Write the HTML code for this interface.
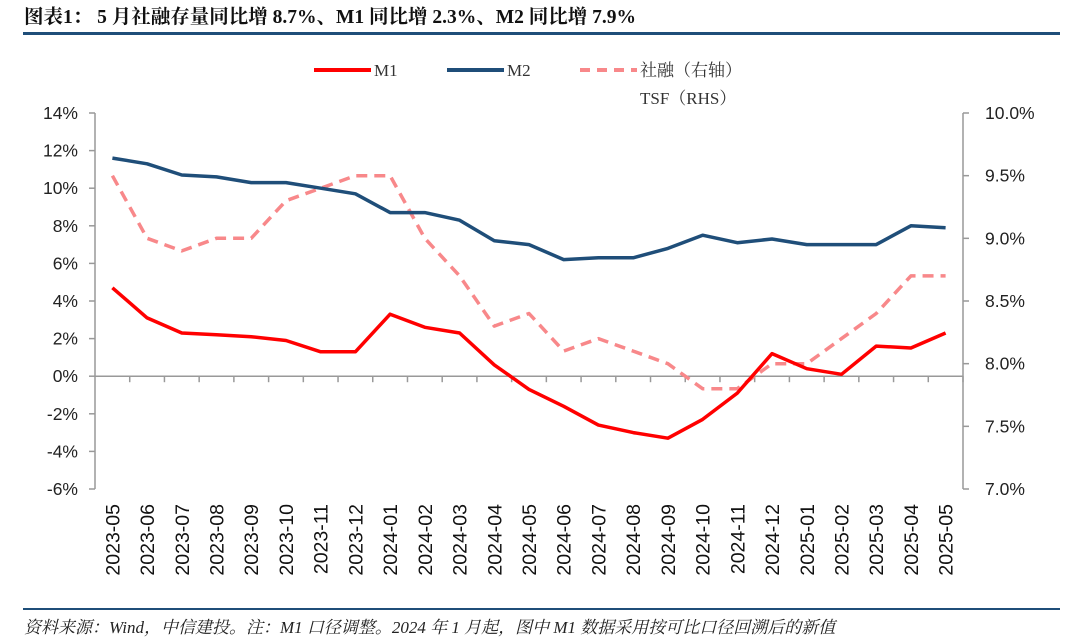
<!DOCTYPE html>
<html><head><meta charset="utf-8"><style>
body{margin:0;width:1080px;height:639px;background:#fff;overflow:hidden;font-family:"Liberation Sans","Noto Sans CJK SC",sans-serif}
</style></head><body>
<svg width="1080" height="639" xmlns="http://www.w3.org/2000/svg">
<text x="24" y="23" font-size="19.5" font-weight="bold" font-family="Liberation Serif,Noto Serif CJK SC,serif" fill="#111">图表1：  5 月社融存量同比增 8.7%、M1 同比增 2.3%、M2 同比增 7.9%</text>
<rect x="23" y="32" width="1037" height="3" fill="#1f4e79"/>
<g id="legend" font-family="Liberation Serif,Noto Serif CJK SC,serif" font-size="17" fill="#333">
<line x1="314" y1="70" x2="371" y2="70" stroke="#f00" stroke-width="4"/>
<text x="374" y="76">M1</text>
<line x1="447" y1="70" x2="504" y2="70" stroke="#1f4e79" stroke-width="4"/>
<text x="507" y="76">M2</text>
<line x1="580" y1="70" x2="637" y2="70" stroke="#f8888a" stroke-width="4" stroke-dasharray="10,7"/>
<text x="640" y="76">社融（右轴）</text>
<text x="640" y="104">TSF（RHS）</text>
</g>
<g id="plot"></g>
<rect x="23" y="608" width="1037" height="2" fill="#1f4e79"/>
<text x="24" y="633" font-size="17" font-style="italic" font-family="Liberation Serif,Noto Serif CJK SC,serif" fill="#222">资料来源：Wind，中信建投。注：M1 口径调整。2024 年 1 月起，图中 M1 数据采用按可比口径回溯后的新值</text>
</svg>
<script>
const categories=["2023-05","2023-06","2023-07","2023-08","2023-09","2023-10","2023-11","2023-12","2024-01","2024-02","2024-03","2024-04","2024-05","2024-06","2024-07","2024-08","2024-09","2024-10","2024-11","2024-12","2025-01","2025-02","2025-03","2025-04","2025-05"];
const m1=[4.7,3.1,2.3,2.2,2.1,1.9,1.3,1.3,3.3,2.6,2.3,0.6,-0.7,-1.6,-2.6,-3.0,-3.3,-2.3,-0.9,1.2,0.4,0.1,1.6,1.5,2.3];
const m2=[11.6,11.3,10.7,10.6,10.3,10.3,10.0,9.7,8.7,8.7,8.3,7.2,7.0,6.2,6.3,6.3,6.8,7.5,7.1,7.3,7.0,7.0,7.0,8.0,7.9];
const tsf=[9.5,9.0,8.9,9.0,9.0,9.3,9.4,9.5,9.5,9.0,8.7,8.3,8.4,8.1,8.2,8.1,8.0,7.8,7.8,8.0,8.0,8.2,8.4,8.7,8.7];
const leftTicks=[14,12,10,8,6,4,2,0,-2,-4,-6];
const rightTicks=[10.0,9.5,9.0,8.5,8.0,7.5,7.0];
const NS="http://www.w3.org/2000/svg";
const g=document.getElementById('plot');
const X0=95,X1=963,T=113,B=489;
const bw=(X1-X0)/categories.length;
const xs=i=>X0+bw*(i+0.5);
const yL=v=>T+(14-v)/20*(B-T);
const yR=v=>T+(10-v)/3*(B-T);
function el(t,a){const e=document.createElementNS(NS,t);for(const k in a)e.setAttribute(k,a[k]);g.appendChild(e);return e;}
let e;
e=el('line',{x1:X0,y1:T,x2:X0,y2:B,stroke:'#999','stroke-width':1.5});


e=el('line',{x1:X1,y1:T,x2:X1,y2:B,stroke:'#999','stroke-width':1.5});


e=el('line',{x1:X0,y1:yL(0),x2:X1,y2:yL(0),stroke:'#999','stroke-width':1.5});


leftTicks.forEach(v=>{
 el('line',{x1:X0-6,y1:yL(v),x2:X0,y2:yL(v),stroke:'#999','stroke-width':1.5});
 e=el('text',{x:78,y:yL(v)+6,'text-anchor':'end','font-size':17.5,fill:'#222'});
 e.textContent=v+'%';
 
 
});
rightTicks.forEach(v=>{
 el('line',{x1:X1,y1:yR(v),x2:X1+6,y2:yR(v),stroke:'#999','stroke-width':1.5});
 e=el('text',{x:985,y:yR(v)+6,'font-size':17.5,fill:'#222'});
 e.textContent=v.toFixed(1)+'%';
 
 
});
categories.forEach((c,i)=>{
 el('line',{x1:X0+bw*(i+1),y1:yL(0),x2:X0+bw*(i+1),y2:yL(0)+6,stroke:'#999','stroke-width':1.5});
 const x=xs(i)+7,y=504;
 e=el('text',{x:x,y:y,'text-anchor':'end','font-size':19.5,fill:'#111',transform:`rotate(-90 ${x} ${y})`});
 e.textContent=c;
 
 
});
function line(d,yf,color,dash,name){
 const p=d.map((v,i)=>(i?'L':'M')+xs(i).toFixed(1)+','+yf(v).toFixed(1)).join('');
 const a={d:p,fill:'none',stroke:color,'stroke-width':3.5,'stroke-linejoin':'round'};
 if(dash)a['stroke-dasharray']=dash;
 const l=el('path',a);
 
 
}
line(tsf,yR,'#f8888a','11,7','tsf-line');
line(m2,yL,'#1f4e79',null,'m2-line');
line(m1,yL,'#f00',null,'m1-line');
</script>
</body></html>
